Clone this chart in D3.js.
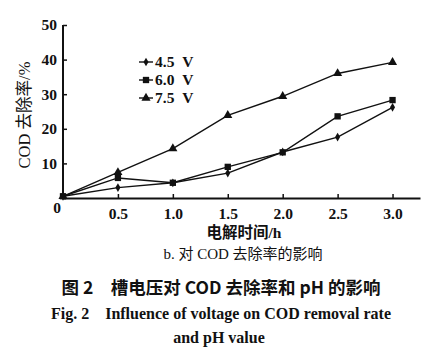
<!DOCTYPE html>
<html><head><meta charset="utf-8">
<script src="https://cdn.jsdelivr.net/npm/d3@7"></script>
<style>body{margin:0;background:#fff}svg{display:block}</style>
</head><body>
<svg id="c" width="423" height="351"></svg>
<script>
const times = [0, 0.5, 1.0, 1.5, 2.0, 2.5, 3.0];
const v45 = [0.5, 3.0, 4.4, 7.2, 13.3, 17.6, 26.2];
const v60 = [0.5, 5.8, 4.4, 9.0, 13.2, 23.6, 28.3];
const v75 = [0.5, 7.4, 14.3, 23.9, 29.4, 36.0, 39.2];
const seriesNames = ["4.5 V", "6.0 V", "7.5 V"];
const xTicks = [0.5, 1.0, 1.5, 2.0, 2.5, 3.0];
const yTicks = [10, 20, 30, 40, 50];

const svg = d3.select("#c");
const x = d3.scaleLinear().domain([0, 3.25]).range([63, 420]);
const y = d3.scaleLinear().domain([0, 50]).range([198, 25]);
const tickFont = "'Liberation Serif','Times New Roman',serif";
const ink = "#111";

// axes
const xa = svg.append("g").attr("transform", "translate(0,198)")
  .call(d3.axisBottom(x).tickValues(xTicks).tickFormat(d3.format(".1f")).tickSizeInner(-4).tickSizeOuter(0).tickPadding(10));
const ya = svg.append("g").attr("transform", "translate(63,0)")
  .call(d3.axisLeft(y).tickValues(yTicks).tickFormat(d3.format("d")).tickSizeInner(-4).tickSizeOuter(0).tickPadding(6));
[xa, ya].forEach(a => {
  a.select(".domain").attr("stroke", ink).attr("stroke-width", 2);
  a.selectAll(".tick line").attr("stroke", ink).attr("stroke-width", 1.5);
  a.selectAll("text").attr("font-family", tickFont).attr("font-weight", "bold").attr("font-size", 15.5).attr("fill", ink);
});
ya.select(".domain").attr("d", `M0,${y(0)}V${y(50)}`);
svg.append("text").attr("x", 57).attr("y", 213).attr("text-anchor", "middle")
  .attr("font-family", tickFont).attr("font-weight", "bold").attr("font-size", 15.5).attr("fill", ink).text("0");

// series
const sets = [v45, v60, v75];
const line = d3.line().x((d, i) => x(times[i])).y(d => y(d));
const symbols = [d3.symbolDiamond, d3.symbolSquare, d3.symbolTriangle];
const sizes = [22, 40, 36];
sets.forEach((vals, k) => {
  svg.append("path").attr("d", line(vals)).attr("fill", "none").attr("stroke", ink).attr("stroke-width", 1.4);
  svg.selectAll(null).data(vals).enter().append("path")
    .attr("transform", (d, i) => `translate(${x(times[i])},${y(d)})`)
    .attr("d", d3.symbol().type(symbols[k]).size(sizes[k])).attr("fill", ink);
});

// legend
const legY = [62, 80, 98];
seriesNames.forEach((n, k) => {
  svg.append("line").attr("x1", 139).attr("x2", 153).attr("y1", legY[k]).attr("y2", legY[k]).attr("stroke", ink).attr("stroke-width", 1.4);
  svg.append("path").attr("transform", `translate(146,${legY[k]})`).attr("d", d3.symbol().type(symbols[k]).size(sizes[k])).attr("fill", ink);
  svg.append("text").attr("x", 155).attr("y", legY[k] + 5).attr("font-family", tickFont).attr("font-weight", "bold")
    .attr("font-size", 15.5).attr("fill", ink).text(n.replace(" ", "\u00a0\u00a0"));
});

// y label
svg.append("text").attr("transform", "translate(30,115) rotate(-90)").attr("text-anchor", "middle")
  .attr("font-family", "'Liberation Serif','Noto Sans CJK SC',serif").attr("font-size", 16.5).attr("fill", ink).text("COD 去除率/%");

// x label and captions
const cap = (t, yy, size, weight, fam, xx) => svg.append("text").attr("x", xx).attr("y", yy).attr("text-anchor", "middle")
  .attr("font-family", fam).attr("font-size", size).attr("font-weight", weight).attr("fill", ink).text(t);
const serifCJK = "'Liberation Serif','Noto Sans CJK SC',serif";
cap("电解时间/h", 238, 15.5, "bold", serifCJK, 244);
cap("b. 对 COD 去除率的影响", 259, 15, "normal", serifCJK, 243);
cap("图 2　槽电压对 COD 去除率和 pH 的影响", 294, 17.5, "bold", "'Noto Sans CJK SC',sans-serif", 221);
cap("Fig. 2　Influence of voltage on COD removal rate", 319, 16, "bold", serifCJK, 221);
cap("and pH value", 343, 16, "bold", serifCJK, 219);
</script>
</body></html>
